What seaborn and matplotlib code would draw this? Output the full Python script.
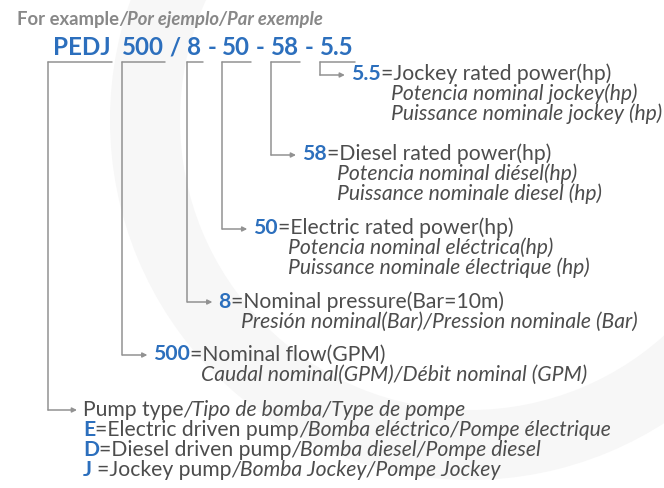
import matplotlib
matplotlib.use("Agg")
import matplotlib.pyplot as plt
import numpy as np
import pandas as pd
import seaborn as sns
from matplotlib.patches import Wedge

sns.set_theme(style="white")
plt.rcParams['font.family'] = ['Lato', 'DejaVu Sans']

# ---------------- data ----------------
title_parts = [("For example", "title"), ("/Por ejemplo/Par exemple", "title_it")]
code_segments = ["PEDJ", "500", "8", "50", "58", "5.5"]
code_separators = ["  ", " / ", " - ", " - ", " - "]

# one entry per code segment (index into code_segments)
entry_segment = [5, 4, 3, 2, 1, 0]
entry_code = ["5.5", "58", "50", "8", "500", ""]
entry_heading = ["=Jockey rated power(hp)", "=Diesel rated power(hp)",
                 "=Electric rated power(hp)", "=Nominal pressure(Bar=10m)",
                 "=Nominal flow(GPM)", "Pump type"]
entry_heading_it = ["", "", "", "", "", "/Tipo de bomba/Type de pompe"]
entry_sublines = [
    ["Potencia nominal jockey(hp)", "Puissance nominale jockey (hp)"],
    ["Potencia nominal diésel(hp)", "Puissance nominale diesel (hp)"],
    ["Potencia nominal eléctrica(hp)", "Puissance nominale électrique (hp)"],
    ["Presión nominal(Bar)/Pression nominale (Bar)"],
    ["Caudal nominal(GPM)/Débit nominal (GPM)"],
    [],
]
pump_letters = ["E", "D", "J "]
pump_names = ["=Electric driven pump", "=Diesel driven pump", "=Jockey pump"]
pump_names_it = ["/Bomba eléctrico/Pompe électrique", "/Bomba diesel/Pompe diesel",
                 "/Bomba Jockey/Pompe Jockey"]

# ---------------- layout / style ----------------
W, H = 664, 488
BLUE = '#2c6fbd'
TXT = '#4d4d4d'
LINE = '#929292'
TITLE_C = '#888888'

row_center = [75, 155, 229, 302, 355, 410]
line_step = 20

fig = plt.figure(figsize=(W / 100, H / 100), dpi=100)
fig.patch.set_facecolor('white')
ax = fig.add_axes([0, 0, 1, 1])
ax.set_xlim(0, W)
ax.set_ylim(H, 0)
ax.axis('off')

# faint watermark arc
ax.add_patch(Wedge((470, 120), 360, 0, 360, width=70, facecolor='#f7f7f7',
                   edgecolor='none', zorder=0))

fig.canvas.draw()
renderer = fig.canvas.get_renderer()

STY = {
    'code': dict(color=BLUE, fontweight='bold'),
    'normal': dict(color=TXT),
    'italic': dict(color=TXT, fontstyle='italic'),
    'title': dict(color=TITLE_C, fontweight='bold'),
    'title_it': dict(color=TITLE_C, fontweight='bold', fontstyle='italic'),
}


def width_of(s, sty, size):
    t1 = ax.text(0, 0, "X" + s + "X", fontsize=size, **STY[sty])
    t2 = ax.text(0, 0, "XX", fontsize=size, **STY[sty])
    w = t1.get_window_extent(renderer).width - t2.get_window_extent(renderer).width
    t1.remove()
    t2.remove()
    return w


def draw_pieces(x, y, pieces, size):
    spans = []
    for s, sty in pieces:
        w = width_of(s, sty, size)
        if s.strip():
            ax.text(x, y, s, fontsize=size, ha='left', va='baseline', zorder=3, **STY[sty])
        spans.append((x, x + w))
        x += w
    return spans


def fit_size(pieces, target):
    total = sum(width_of(s, sty, 10) for s, sty in pieces)
    return 10 * target / total


body_size = fit_size([("Presión nominal(Bar)/Pression nominale (Bar)", 'italic')], 396)
code_pieces = []
for i, seg in enumerate(code_segments):
    code_pieces.append((seg, 'code'))
    if i < len(code_separators):
        code_pieces.append((code_separators[i], 'code'))
code_size = fit_size(code_pieces, 299)
title_size = fit_size(title_parts, 305)

# title
draw_pieces(17, 25, title_parts, title_size)

# code line
spans = draw_pieces(53, 55, code_pieces, code_size)
seg_spans = spans[0::2]

UL_Y = 62
conn = []
for k, (seg_idx, code, head, head_it, subs, yc) in enumerate(
        zip(entry_segment, entry_code, entry_heading, entry_heading_it,
            entry_sublines, row_center)):
    x0, x1 = seg_spans[seg_idx]
    vx = x0 - (5 if seg_idx == 0 else 0)
    conn += [(vx, UL_Y, k), (x1 + 1, UL_Y, k)]
    conn += [(vx, UL_Y, k + 100), (vx, yc, k + 100)]
    tx = vx + (35 if not code else 31)
    ax.annotate('', xy=(tx - 6, yc), xytext=(vx, yc),
                arrowprops=dict(arrowstyle='-|>', color=LINE, lw=1.1,
                                mutation_scale=7, shrinkA=0, shrinkB=0), zorder=2)
    base = yc + 5.5
    pieces = []
    if code:
        pieces.append((code, 'code'))
    pieces.append((head, 'normal'))
    if head_it:
        pieces.append((head_it, 'italic'))
    sp = draw_pieces(tx, base, pieces, body_size)
    if code:
        sub_x = sp[1][0] + width_of("=", 'normal', body_size)
    else:
        sub_x = tx
    for j, s in enumerate(subs):
        draw_pieces(sub_x - 2, base + line_step * (j + 1), [(s, 'italic')], body_size)
    if not code:
        for j, (L, nm, nit) in enumerate(zip(pump_letters, pump_names, pump_names_it)):
            draw_pieces(tx, base + line_step * (j + 1),
                        [(L, 'code'), (nm, 'normal'), (nit, 'italic')], body_size)

df = pd.DataFrame(conn, columns=['x', 'y', 'unit'])
sns.lineplot(data=df, x='x', y='y', units='unit', estimator=None, sort=False,
             color=LINE, lw=1.1, ax=ax, zorder=2)
ax.set_xlim(0, W)
ax.set_ylim(H, 0)
ax.axis('off')

fig.savefig('out.png', dpi=100, facecolor='white')
